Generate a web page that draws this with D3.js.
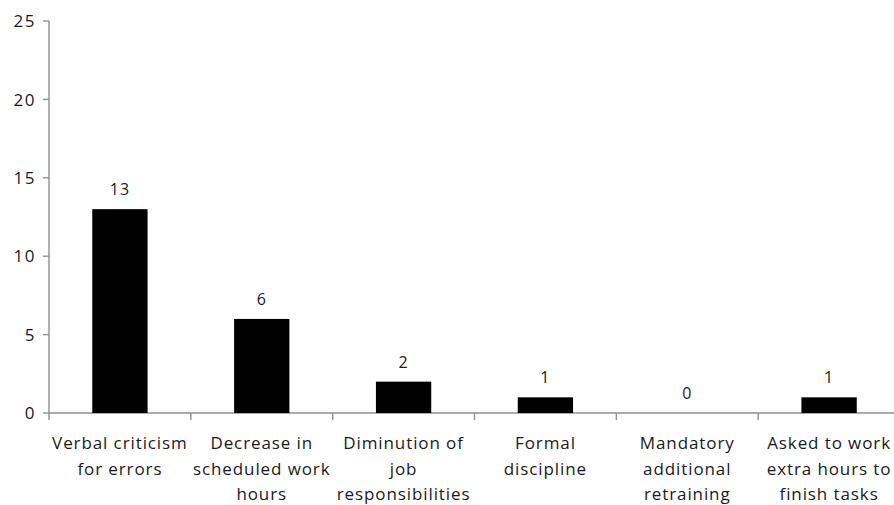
<!DOCTYPE html>
<html><head><meta charset="utf-8">
<script src="https://cdn.jsdelivr.net/npm/d3@7"></script>
<style>body{margin:0;background:#fff}svg{display:block}text{font-family:"Open Sans",sans-serif;fill:#1a1a1a}</style>
</head><body><svg id="c" width="894" height="505"></svg>
<script>
const categories = [
  ["Verbal criticism","for errors"],
  ["Decrease in","scheduled work","hours"],
  ["Diminution of","job","responsibilities"],
  ["Formal","discipline"],
  ["Mandatory","additional","retraining"],
  ["Asked to work","extra hours to","finish tasks"]
];
const values = [13, 6, 2, 1, 0, 1];
const yTicks = [0, 5, 10, 15, 20, 25];

const svg = d3.select("#c");
const x0 = 49, x1 = 900, yTop = 21, yBot = 413;
const x = d3.scaleBand().domain(d3.range(categories.length)).range([x0, x1]).paddingInner(0.61).paddingOuter(0.305);
const y = d3.scaleLinear().domain([0, 25]).range([yBot, yTop]);
const step = x.step();
const axisColor = "#8f8f8f";

// y axis
svg.append("line").attr("x1", x0).attr("x2", x0).attr("y1", y(25)).attr("y2", y(0)).attr("stroke", axisColor).attr("stroke-width", 1.4);
yTicks.forEach(t => {
  svg.append("line").attr("x1", x0 - 6).attr("x2", x0).attr("y1", y(t)).attr("y2", y(t)).attr("stroke", axisColor).attr("stroke-width", 1.4);
  svg.append("text").attr("x", 36).attr("y", y(t)).attr("dy", "0.36em").attr("text-anchor", "end")
    .attr("font-size", 17).attr("letter-spacing", 1.5).text(t);
});
// x axis
svg.append("line").attr("x1", x0).attr("x2", x1).attr("y1", y(0)).attr("y2", y(0)).attr("stroke", axisColor).attr("stroke-width", 1.4);
d3.range(categories.length + 1).forEach(i => {
  const xx = x0 + i * step;
  svg.append("line").attr("x1", xx).attr("x2", xx).attr("y1", y(0)).attr("y2", y(0) + 7).attr("stroke", axisColor).attr("stroke-width", 1.4);
});

// bars
svg.selectAll("rect.bar").data(values).join("rect").attr("class", "bar")
  .attr("x", (d, i) => x(i)).attr("width", x.bandwidth())
  .attr("y", d => y(d)).attr("height", d => y(0) - y(d)).attr("fill", "#000");

// value labels
svg.selectAll("text.val").data(values).join("text").attr("class", "val")
  .attr("x", (d, i) => x(i) + x.bandwidth() / 2).attr("y", d => y(d) - 14)
  .attr("text-anchor", "middle").attr("font-size", 16).attr("letter-spacing", 1).text(d => d);

// category labels
categories.forEach((lines, i) => {
  const cx = x(i) + x.bandwidth() / 2;
  lines.forEach((ln, j) => {
    svg.append("text").attr("x", cx).attr("y", 449 + j * 25.5).attr("text-anchor", "middle")
      .attr("font-size", 17).attr("letter-spacing", 0.9).text(ln);
  });
});
</script></body></html>
